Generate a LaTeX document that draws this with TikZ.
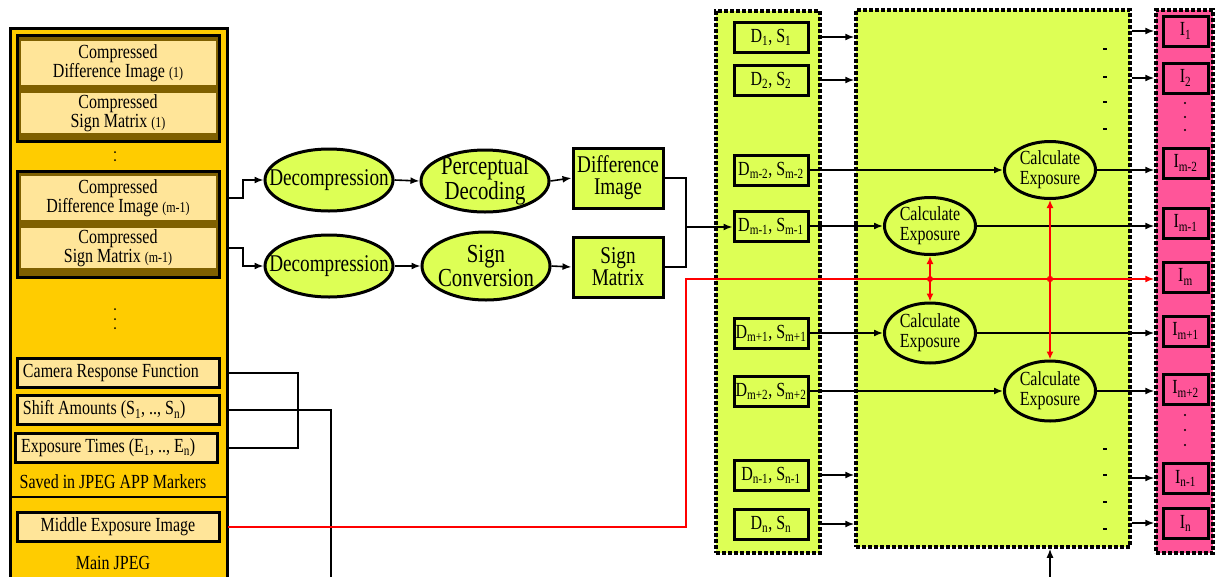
\documentclass[tikz,border=0pt]{standalone}
\usepackage{fontspec}
\setmainfont{Liberation Serif}[FakeStretch=0.8]
\usetikzlibrary{arrows.meta,shapes.geometric}

\definecolor{jpeggold}{RGB}{255,204,0}
\definecolor{grpolive}{RGB}{127,96,0}
\definecolor{paramcream}{RGB}{255,229,153}
\definecolor{stagelime}{RGB}{221,255,85}
\definecolor{outpink}{RGB}{255,85,153}

\newcommand{\grpidx}[1]{{\fontsize{15}{18}\selectfont #1}}

\begin{document}
\begin{tikzpicture}[x=1pt, y=-1pt, font=\fontsize{20}{19}\selectfont,
    conn/.style={line width=1.6pt},
    arr/.style={conn, -{Latex[length=9pt,width=7pt]}},
    redline/.style={draw=red, line width=1.6pt},
    inner/.style={fill=paramcream, minimum width=195pt, minimum height=44pt, inner sep=0pt, align=center},
    param/.style={draw, line width=3pt, fill=paramcream, minimum width=202pt, minimum height=29pt, inner sep=0pt, text width=190pt, align=flush left},
    stage/.style={ellipse, draw, line width=3pt, fill=stagelime, minimum width=128pt, minimum height=62pt, inner sep=0pt},
    stagetext/.style={align=center, font=\fontsize{24}{22}\selectfont},
    stagebox/.style={draw, line width=3pt, fill=stagelime, minimum width=90pt, minimum height=60pt, inner sep=0pt, align=center, font=\fontsize{24}{22}\selectfont},
    panel/.style={draw, line width=3.5pt, dash pattern=on 4pt off 2pt, inner sep=0pt},
    dbox/.style={draw, line width=3pt, fill=stagelime, minimum width=74pt, minimum height=30pt, inner sep=0pt},
    ibox/.style={draw, line width=3pt, fill=outpink, minimum width=45pt, minimum height=30pt, inner sep=0pt},
    calc/.style={ellipse, draw, line width=3pt, fill=stagelime, minimum width=91pt, minimum height=57pt, inner sep=0pt, align=center, font=\fontsize{20}{20}\selectfont}]
\useasboundingbox (0,0) rectangle (1215,576);
\clip (0,0) rectangle (1215,576);

% JPEG file
\draw[line width=3pt, fill=jpeggold] (10,28) rectangle (227,600);
\draw[line width=2pt] (10,497) -- (227,497);
\coordinate (jpegedge) at (228,0);

% compressed pairs
\draw[line width=3pt, fill=grpolive] (17,35) rectangle (219,141);
\draw[line width=3pt, fill=grpolive] (17,171) rectangle (219,277);
\node[inner] (cd1) at (118,63) {Compressed\\Difference Image \grpidx{(1)}};
\node[inner, minimum height=40pt] (cs1) at (118,113) {Compressed\\Sign Matrix \grpidx{(1)}};
\node[inner] (cd2) at (118,198) {Compressed\\Difference Image \grpidx{(m-1)}};
\node[inner, minimum height=40pt] (cs2) at (118,248) {Compressed\\Sign Matrix \grpidx{(m-1)}};
\foreach \y in {152,160} \fill (115,\y) circle (1);
\foreach \y in {309,319,328} \fill (115,\y) circle (1);

% APP markers
\node[param] (crf) at (118,373) {Camera Response Function};
\node[param] (shift) at (118,410) {Shift Amounts (S\textsubscript{1}, .., S\textsubscript{n})};
\node[param] (ext) at (116,448) {Exposure Times (E\textsubscript{1}, .., E\textsubscript{n})};
\node (saved) at (113,482) {Saved in JPEG APP Markers};
\node[param, align=flush center] (mid) at (118,527) {Middle Exposure Image};
\node (mainjpeg) at (113,563) {Main JPEG};

\draw[conn] (crf.east -| jpegedge) -- ++(70,0) |- (ext.east -| jpegedge);
\coordinate (shiftdown) at (331,590);
\draw[conn] (shift.east -| jpegedge) -| (shiftdown);

% decoding
\node[stage, label={[stagetext]center:Decompression}] (dec1) at (329,180) {};
\node[stage, label={[stagetext, font=\fontsize{26}{22}\selectfont]center:{Perceptual\\Decoding}}] (perc) at (485,181) {};
\node[stagebox] (diffimg) at (618,178) {Difference\\Image};
\node[stage, label={[stagetext]center:Decompression}] (dec2) at (329,266) {};
\node[stage, minimum height=68pt, label={[stagetext, font=\fontsize{26}{22}\selectfont]center:{Sign\\Conversion}}] (signconv) at (486,266) {};
\node[stagebox] (signmat) at (618,267) {Sign\\Matrix};

\draw[arr] (cd2.east -| jpegedge) -- ++(15,0) |- (dec1.west);
\draw[arr] (cs2.east -| jpegedge) -- ++(15,0) |- (dec2.west);
\draw[arr] (dec1.east) -- (perc.west);
\draw[arr] (perc.east) -- (diffimg.west);
\draw[arr] (dec2.east) -- (signconv.west);
\draw[arr] (signconv.east) -- (signmat.west);

% panels
\node[panel, fill=stagelime, minimum width=104pt, minimum height=542pt] (dpanel) at (768,282) {};
\node[panel, fill=stagelime, minimum width=274pt, minimum height=537pt] (cpanel) at (993,278.5) {};
\node[panel, fill=outpink, minimum width=57pt, minimum height=543pt] (ipanel) at (1184.5,281.5) {};

% difference / sign pairs
\node[dbox] (d1) at (771,37) {D\textsubscript{1}, S\textsubscript{1}};
\node[dbox] (d2) at (771,80) {D\textsubscript{2}, S\textsubscript{2}};
\node[dbox] (dmm2) at (771,170) {D\textsubscript{m-2}, S\textsubscript{m-2}};
\node[dbox] (dmm1) at (771,226) {D\textsubscript{m-1}, S\textsubscript{m-1}};
\node[dbox] (dmp1) at (771,333) {D\textsubscript{m+1}, S\textsubscript{m+1}};
\node[dbox] (dmp2) at (771,391) {D\textsubscript{m+2}, S\textsubscript{m+2}};
\node[dbox] (dnm1) at (771,475) {D\textsubscript{n-1}, S\textsubscript{n-1}};
\node[dbox] (dn) at (771,524) {D\textsubscript{n}, S\textsubscript{n}};

% output images
\node[ibox] (i1) at (1185.5,31) {I\textsubscript{1}};
\node[ibox] (i2) at (1185.5,78) {I\textsubscript{2}};
\node[ibox] (imm2) at (1185.5,163) {I\textsubscript{m-2}};
\node[ibox] (imm1) at (1185.5,223) {I\textsubscript{m-1}};
\node[ibox] (im) at (1185.5,277) {I\textsubscript{m}};
\node[ibox] (imp1) at (1185.5,331) {I\textsubscript{m+1}};
\node[ibox] (imp2) at (1185.5,389) {I\textsubscript{m+2}};
\node[ibox] (inm1) at (1185.5,478) {I\textsubscript{n-1}};
\node[ibox] (inn) at (1185.5,523) {I\textsubscript{n}};
\foreach \y in {103,117,130,415,430,445} \fill (1185,\y) circle (1.2);

% exposure calculation
\node[calc] (ce1) at (1050,170) {Calculate\\Exposure};
\node[calc] (ce2) at (930,226) {Calculate\\Exposure};
\node[calc, minimum height=60pt] (ce3) at (930,333) {Calculate\\Exposure};
\node[calc, minimum height=60pt] (ce4) at (1050,391) {Calculate\\Exposure};
\foreach \y in {48,76,101,128,448,474,501,528} \fill (1103,\y) rectangle (1107,{\y+2});

\coordinate (merge) at (686,227);
\draw[conn] (diffimg.east) -| (merge);
\draw[conn] (signmat.east) -| (merge);
\draw[arr] (merge) -- (merge -| dmm1.west);

\foreach \b in {d1,d2,dnm1,dn} \draw[arr] (dpanel.east |- \b) -- (cpanel.west |- \b);
\foreach \b in {i1,i2,inm1,inn} \draw[arr] (cpanel.east |- \b) -- (ipanel.west |- \b);
\draw[arr] (dmm2.east) -- (ce1.west);
\draw[arr] (dmm1.east) -- (ce2.west);
\draw[arr] (dmp1.east) -- (ce3.west);
\draw[arr] (dmp2.east) -- (ce4.west);
\foreach \c in {ce1,ce2,ce3,ce4} \draw[arr] (\c.east) -- (\c.east -| ipanel.west);

% middle exposure
\coordinate (redturn) at (686,279);
\draw[redline, -{Latex[length=9pt,width=7pt]}] (mid.east -| jpegedge) -| (redturn) -- (redturn -| ipanel.west);
\draw[redline, {Latex[length=8pt,width=7pt]}-{Latex[length=8pt,width=7pt]}] (ce2.south) -- (ce3.north);
\draw[redline, {Latex[length=8pt,width=7pt]}-{Latex[length=8pt,width=7pt]}] (ce1.south) -- (ce4.north);
\fill[red] (ce2 |- redturn) circle (3);
\draw[red, line width=1.2pt] (ce1 |- redturn) circle (2.5);

\coordinate (feedup) at (1050,590);
\draw[arr] (feedup) -- (feedup |- cpanel.south);
\end{tikzpicture}
\end{document}
